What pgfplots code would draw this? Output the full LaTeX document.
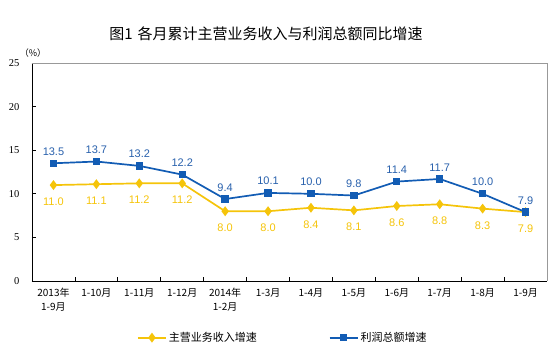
\documentclass[border=0pt]{standalone}
\usepackage{fontspec}
\setmainfont{Liberation Serif}
\newfontfamily\cjk{Noto Sans CJK SC}
\newfontfamily\arial{Liberation Sans}
\usepackage{pgfplots}
\usepackage{pgfplotstable}
\pgfplotsset{compat=1.18}
\definecolor{cyel}{RGB}{245,196,10}
\definecolor{cblue}{RGB}{18,92,180}
\definecolor{cbluet}{RGB}{40,96,172}

\pgfplotstableread{
x y lab
0 11.0 11.0
1 11.1 11.1
2 11.2 11.2
3 11.2 11.2
4 8.0 8.0
5 8.0 8.0
6 8.4 8.4
7 8.1 8.1
8 8.6 8.6
9 8.8 8.8
10 8.3 8.3
11 7.9 7.9
}\yellowdata

\pgfplotstableread{
x y lab
0 13.5 13.5
1 13.7 13.7
2 13.2 13.2
3 12.2 12.2
4 9.4 9.4
5 10.1 10.1
6 10.0 10.0
7 9.8 9.8
8 11.4 11.4
9 11.7 11.7
10 10.0 10.0
11 7.9 7.9
}\bluedata

\begin{document}
\begin{tikzpicture}[x=1pt,y=1pt]
\useasboundingbox (0,0) rectangle (554,352);
\node[font=\cjk\fontsize{15}{15}\selectfont, anchor=center] at (266,318) {图1\hspace{5pt}各月累计主营业务收入与利润总额同比增速};
\begin{axis}[
  at={(32pt,71pt)}, anchor=south west,
  scale only axis, width=515pt, height=218pt,
  xmin=-0.5, xmax=11.5, ymin=0, ymax=25,
  axis x line*=bottom, axis y line*=left,
  axis line style={-, line width=0.8pt, black},
  tick align=inside,
  ytick={0,5,...,25},
  major tick length=4pt, minor tick length=4pt,
  xtick={0,...,11},
  minor xtick={0.5,1.5,...,10.5},
  major x tick style={draw=none},
  minor x tick style={draw=black, line width=0.8pt},
  ytick style={black, line width=0.8pt},
  xticklabels={{2013年\\1-9月},1-10月,1-11月,1-12月,{2014年\\1-2月},1-3月,1-4月,1-5月,1-6月,1-7月,1-8月,1-9月},
  xticklabel style={font=\cjk\fontsize{10}{14}\selectfont, align=center, yshift=-4pt},
  yticklabel style={font=\fontsize{10.5}{12}\selectfont, xshift=-9pt},
  /pgf/number format/assume math mode=true,
  legend columns=2,
  legend style={at={(0.487,-0.26)}, anchor=center, draw=none, fill=none,
    font=\cjk\fontsize{11}{11}\selectfont,
    /tikz/every even column/.append style={column sep=70pt}},
  legend image code/.code={\draw[mark repeat=2,mark phase=2,#1] plot coordinates {(0pt,0pt)(14pt,0pt)(28pt,0pt)};},
  clip=false,
]
\draw[gray!80, line width=0.8pt] (rel axis cs:0,1) -- (rel axis cs:1,1) -- (rel axis cs:1,0);
\addplot[cyel, line width=1.7pt, mark=diamond*, mark size=3.6pt, mark options={solid, fill=cyel},
  nodes near coords, point meta=explicit symbolic, nodes near coords align={below},
  every node near coord/.append style={font=\arial\fontsize{11}{11}\selectfont, text=cyel, inner sep=0pt, anchor=north, yshift=-12pt}]
  table[x=x,y=y,meta=lab] {\yellowdata};
\addlegendentry{主营业务收入增速}
\addplot[cblue, line width=1.7pt, mark=square*, mark size=2.8pt, mark options={solid, fill=cblue},
  nodes near coords, point meta=explicit symbolic, nodes near coords align={above},
  every node near coord/.append style={font=\arial\fontsize{11}{11}\selectfont, text=cbluet, inner sep=0pt, anchor=south, yshift=7pt}]
  table[x=x,y=y,meta=lab] {\bluedata};
\addlegendentry{利润总额增速}
\node[font=\cjk\fontsize{9}{9}\selectfont] at (rel axis cs:0,1) [xshift=1pt, yshift=10pt] {（\%）};
\end{axis}
\end{tikzpicture}
\end{document}
